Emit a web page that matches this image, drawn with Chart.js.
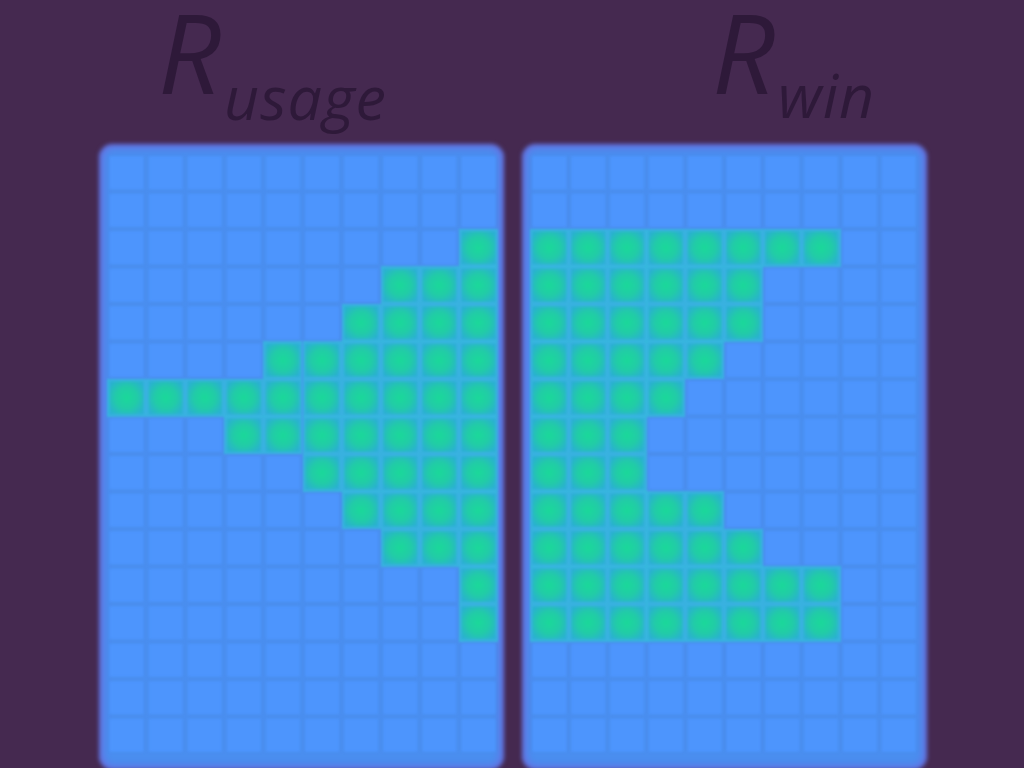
<!DOCTYPE html>
<html>
<head>
<meta charset="utf-8">
<script src="https://cdn.jsdelivr.net/npm/chart.js@4/dist/chart.umd.min.js"></script>
<style>
  html, body { margin:0; padding:0; width:1024px; height:768px; overflow:hidden; background:#452950; }
  .panel { position:absolute; background:#4a8eef; border-radius:14px;
           box-shadow: inset 0 0 7px 3px rgba(112,104,222,0.95); filter: blur(2px); }
  .chartbox { position:absolute; filter: blur(1.2px); }
  .ttl { position:absolute; color:#2e1939; font-family:"Open Sans", sans-serif; font-style:italic; font-weight:400; line-height:1; white-space:nowrap; }
  .big { font-size:110px; }
  .sub { font-size:61px; letter-spacing:1px; }
</style>
</head>
<body>
<div class="panel" style="left:99px; top:144px; width:405px; height:626px;"></div>
<div class="panel" style="left:522px; top:144px; width:405px; height:626px;"></div>

<div class="ttl big" style="left:158px; top:-4px;">R</div>
<div class="ttl sub" style="left:224px; top:66px;">usage</div>
<div class="ttl big" style="left:712px; top:-4px;">R</div>
<div class="ttl sub" style="left:778px; top:64px;">win</div>

<div class="chartbox" style="left:104px; top:151px; width:397px; height:606px;"><canvas id="cUsage" width="397" height="606"></canvas></div>
<div class="chartbox" style="left:527px; top:151px; width:394px; height:606px;"><canvas id="cWin" width="394" height="606"></canvas></div>

<script>
// ---- data ----
const columns = [0,1,2,3,4,5,6,7,8,9];
const rows = [0,1,2,3,4,5,6,7,8,9,10,11,12,13,14,15];

const usageGrid = [
  [0,0,0,0,0,0,0,0,0,0],
  [0,0,0,0,0,0,0,0,0,0],
  [0,0,0,0,0,0,0,0,0,1],
  [0,0,0,0,0,0,0,1,1,1],
  [0,0,0,0,0,0,1,1,1,1],
  [0,0,0,0,1,1,1,1,1,1],
  [1,1,1,1,1,1,1,1,1,1],
  [0,0,0,1,1,1,1,1,1,1],
  [0,0,0,0,0,1,1,1,1,1],
  [0,0,0,0,0,0,1,1,1,1],
  [0,0,0,0,0,0,0,1,1,1],
  [0,0,0,0,0,0,0,0,0,1],
  [0,0,0,0,0,0,0,0,0,1],
  [0,0,0,0,0,0,0,0,0,0],
  [0,0,0,0,0,0,0,0,0,0],
  [0,0,0,0,0,0,0,0,0,0]
];

const winGrid = [
  [0,0,0,0,0,0,0,0,0,0],
  [0,0,0,0,0,0,0,0,0,0],
  [1,1,1,1,1,1,1,1,0,0],
  [1,1,1,1,1,1,0,0,0,0],
  [1,1,1,1,1,1,0,0,0,0],
  [1,1,1,1,1,0,0,0,0,0],
  [1,1,1,1,0,0,0,0,0,0],
  [1,1,1,0,0,0,0,0,0,0],
  [1,1,1,0,0,0,0,0,0,0],
  [1,1,1,1,1,0,0,0,0,0],
  [1,1,1,1,1,1,0,0,0,0],
  [1,1,1,1,1,1,1,1,0,0],
  [1,1,1,1,1,1,1,1,0,0],
  [0,0,0,0,0,0,0,0,0,0],
  [0,0,0,0,0,0,0,0,0,0],
  [0,0,0,0,0,0,0,0,0,0]
];

// ---- cell images (styles) ----
function blueCell(w, h) {
  const c = document.createElement('canvas');
  c.width = w; c.height = h;
  const g = c.getContext('2d');
  g.fillStyle = '#4d95fd';
  g.fillRect(2.5, 2.5, w - 5, h - 5);
  return c;
}
function greenCell(w, h) {
  const c = document.createElement('canvas');
  c.width = w; c.height = h;
  const g = c.getContext('2d');
  g.fillStyle = 'rgba(50,192,218,0.7)';
  g.fillRect(0, 0, w, h);
  const cx = w / 2, cy = h / 2;
  const rg = g.createRadialGradient(cx, cy, 0, cx, cy, Math.max(w, h) * 0.55);
  rg.addColorStop(0, '#1bd99a');
  rg.addColorStop(0.5, '#22cca7');
  rg.addColorStop(1, '#2ab0d2');
  g.fillStyle = rg;
  g.fillRect(2.5, 2.5, w - 5, h - 5);
  return c;
}

function buildPoints(grid) {
  const pts = [];
  rows.forEach(r => columns.forEach(c => pts.push({ x: c, y: r, v: grid[r][c] })));
  return pts;
}

function makeChart(id, grid) {
  const cache = {};
  function styleFor(ctx) {
    const ch = ctx.chart;
    const xs = ch.scales && ch.scales.x, ys = ch.scales && ch.scales.y;
    let pw = NaN, ph = NaN;
    if (xs && ys) {
      pw = Math.abs(xs.getPixelForValue(1) - xs.getPixelForValue(0));
      ph = Math.abs(ys.getPixelForValue(1) - ys.getPixelForValue(0));
    }
    if (!isFinite(pw) || !isFinite(ph) || pw < 2 || ph < 2) {
      pw = ch.width / columns.length;
      ph = ch.height / rows.length;
    }
    pw = Math.round(pw); ph = Math.round(ph);
    const key = pw + 'x' + ph;
    if (!cache[key]) cache[key] = { b: blueCell(pw, ph), g: greenCell(pw, ph) };
    return ctx.raw && ctx.raw.v ? cache[key].g : cache[key].b;
  }
  return new Chart(document.getElementById(id), {
    type: 'scatter',
    data: {
      datasets: [{
        data: buildPoints(grid),
        pointStyle: styleFor,
        pointRadius: 2,
        pointHoverRadius: 2,
        clip: false
      }]
    },
    options: {
      responsive: false,
      animation: false,
      events: [],
      layout: { padding: 0 },
      plugins: { legend: { display: false }, tooltip: { enabled: false }, title: { display: false } },
      scales: {
        x: { type: 'linear', min: -0.5, max: columns.length - 0.5, display: false },
        y: { type: 'linear', min: -0.5, max: rows.length - 0.5, reverse: true, display: false }
      }
    }
  });
}

makeChart('cUsage', usageGrid);
makeChart('cWin', winGrid);
</script>
</body>
</html>
